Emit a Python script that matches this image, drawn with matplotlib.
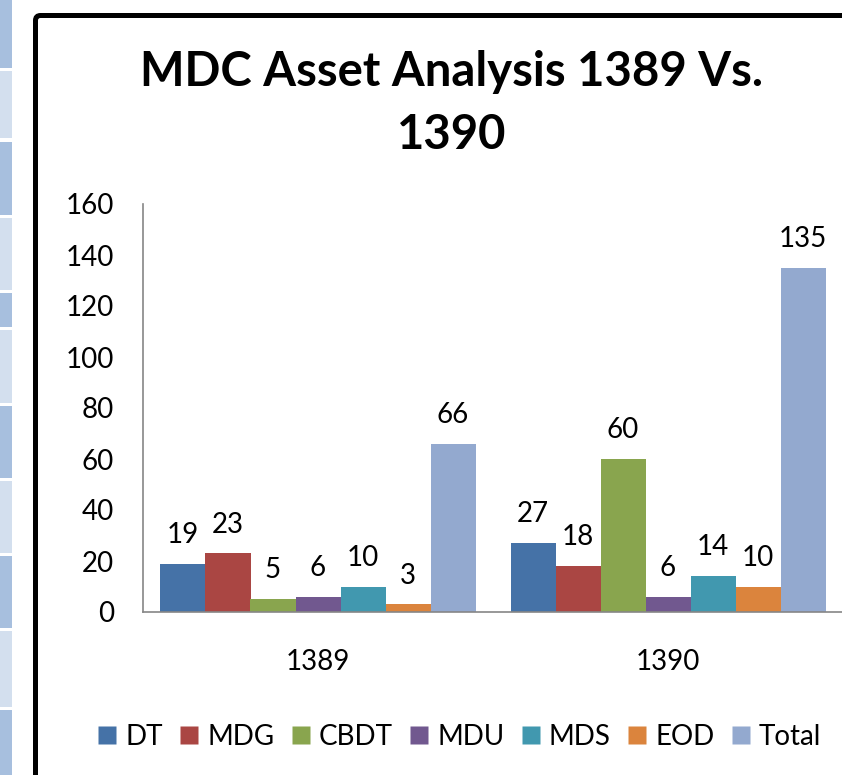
import matplotlib
matplotlib.use("Agg")
import matplotlib.pyplot as plt
import numpy as np
from matplotlib.lines import Line2D
from matplotlib.patches import Rectangle, FancyBboxPatch
from matplotlib.transforms import IdentityTransform

plt.rcParams["font.family"] = ["Lato", "DejaVu Sans"]

YEARS = ["1389", "1390"]
SERIES = ["DT", "MDG", "CBDT", "MDU", "MDS", "EOD", "Total"]
DT = [19, 27]
MDG = [23, 18]
CBDT = [5, 60]
MDU = [6, 6]
MDS = [10, 14]
EOD = [3, 10]
TOTAL = [66, 135]
COLORS = ["#4572A7", "#AA4643", "#89A54E", "#71588F", "#4198AF", "#DB843D", "#93A9CF"]

W, H = 842, 775
FS = 20

fig = plt.figure(figsize=(W / 100, H / 100), dpi=100)

# spreadsheet cells peeking in on the left (top, bottom in px)
strip = [(0, 68), (71, 138), (142, 215), (218, 290), (293, 327), (330, 403),
         (406, 478), (481, 553), (556, 628), (631, 707), (710, 780)]
for i, (t, b) in enumerate(strip):
    c = "#A7BFDE" if i % 2 == 0 else "#D3DFEE"
    fig.patches.append(Rectangle((0, H - b), 12, b - t, facecolor=c, edgecolor="none",
                                 transform=IdentityTransform()))

# chart border
fig.patches.append(FancyBboxPatch((35.5, -30), W + 40, H - 15.5 + 30,
                                  boxstyle="round,pad=0,rounding_size=5",
                                  facecolor="none", edgecolor="black", linewidth=3.6,
                                  transform=IdentityTransform()))

ax = fig.add_axes([143 / W, 163 / H, 700 / W, 408 / H])
ax.set_facecolor("none")

values = [DT, MDG, CBDT, MDU, MDS, EOD, TOTAL]
x = np.arange(len(YEARS))
bw = 0.9 / len(SERIES)
for i, (name, vals, col) in enumerate(zip(SERIES, values, COLORS)):
    pos = x + (i - 3) * bw
    ax.bar(pos, vals, width=bw, color=col, edgecolor="none", label=name)
    for px, v in zip(pos, vals):
        ax.annotate(str(v), (px, v), xytext=(0, 15), textcoords="offset points",
                    ha="center", va="baseline", fontsize=FS, color="black")

ax.set_xlim(-0.5, 1.5)
ax.set_ylim(0, 160)
ax.set_yticks(np.arange(0, 161, 20))
ax.set_xticks(x)
ax.set_xticklabels(YEARS)
ax.tick_params(axis="y", length=0, pad=21, labelsize=FS)
ax.tick_params(axis="x", length=0, pad=27, labelsize=FS)
for s in ["top", "right"]:
    ax.spines[s].set_visible(False)
for s in ["left", "bottom"]:
    ax.spines[s].set_color("#868686")
    ax.spines[s].set_linewidth(1.2)

fig.text(452 / W, 1 - 72 / H, "MDC Asset Analysis 1389 Vs.", ha="center", va="center",
         fontsize=34, fontweight="bold")
fig.text(452 / W, 1 - 135 / H, "1390", ha="center", va="center",
         fontsize=34, fontweight="bold")

handles = [Line2D([], [], marker="s", linestyle="none", markersize=12.5,
                  markerfacecolor=c, markeredgecolor="none") for c in COLORS]
fig.legend(handles, SERIES, loc="center", bbox_to_anchor=(460 / W, 1 - 737 / H),
           ncol=7, frameon=False, fontsize=FS, handlelength=0.6, handletextpad=0.35,
           columnspacing=0.65, borderpad=0)

fig.savefig("out.png", dpi=100)
